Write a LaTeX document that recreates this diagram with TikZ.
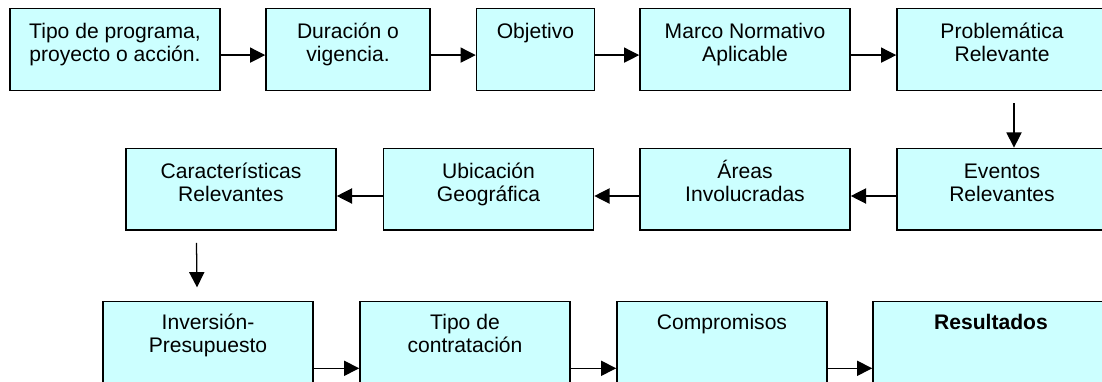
\documentclass[tikz,border=0pt]{standalone}
\usepackage{fontspec}
\setmainfont{Liberation Sans}
\usepackage{xcolor}
\usetikzlibrary{positioning,arrows.meta}
\definecolor{celeste}{RGB}{204,255,255}
\newcommand{\rtop}{\rule{0pt}{1em}}

\begin{document}
\begin{tikzpicture}[x=0.025cm,y=-0.025cm,
    caja/.style={draw=black, fill=celeste, line width=1.1pt, inner sep=0pt,
      minimum width=5.25cm, minimum height=2.04cm},
    rotulo/.style={align=center, inner sep=0pt,
      font=\fontsize{15}{16.4}\selectfont},
    flecha/.style={line width=0.9pt, -{Triangle[length=0.38cm,width=0.38cm]}}]
        \useasboundingbox (0,0) rectangle (1102,381);
        \clip (0,0) rectangle (1102,381);
        % fila 1
        \node[caja] (tipo) at (115,49.5) {};
        \node[caja, minimum width=4.1cm] (dura) at (348,49.5) {};
        \node[caja, minimum width=2.95cm] (obj) at (535.5,49.5) {};
        \node[caja] (marco) at (745,49.5) {};
        \node[caja] (prob) at (1002,49.5) {};
        \node[rotulo, below=0.24cm of tipo.north] (tipo-t) {\rtop Tipo de programa,\\proyecto o acción.};
        \node[rotulo, below=0.24cm of dura.north] (dura-t) {\rtop Duración o\\vigencia.};
        \node[rotulo, below=0.24cm of obj.north] (obj-t) {\rtop Objetivo};
        \node[rotulo, below=0.24cm of marco.north] (marco-t) {\rtop Marco Normativo\\Aplicable};
        \node[rotulo, below=0.24cm of prob.north] (prob-t) {\rtop Problemática\\Relevante};
        % fila 2
        \node[caja] (caract) at (231,189.2) {};
        \node[caja] (ubic) at (488.5,189.2) {};
        \node[caja] (areas) at (745,189.2) {};
        \node[caja] (eventos) at (1002,189.2) {};
        \node[rotulo, below=0.24cm of caract.north] (caract-t) {\rtop Características\\Relevantes};
        \node[rotulo, below=0.24cm of ubic.north] (ubic-t) {\rtop Ubicación\\Geográfica};
        \node[rotulo, below=0.24cm of areas.north] (areas-t) {\rtop Áreas\\Involucradas};
        \node[rotulo, below=0.24cm of eventos.north] (eventos-t) {\rtop Eventos\\Relevantes};
        % fila 3
        \node[caja, minimum height=3.33cm] (inv) at (208,368.3) {};
        \node[caja, minimum height=3.33cm] (contr) at (465,368.3) {};
        \node[caja, minimum height=3.33cm] (comp) at (722,368.3) {};
        \node[caja, minimum height=3.33cm, minimum width=5.9cm] (res) at (991,368.3) {};
        \node[rotulo, below=0.19cm of inv.north] (inv-t) {\rtop Inversión-\\Presupuesto};
        \node[rotulo, below=0.19cm of contr.north] (contr-t) {\rtop Tipo de\\contratación};
        \node[rotulo, below=0.19cm of comp.north] (comp-t) {\rtop Compromisos};
        \node[rotulo, below=0.19cm of res.north] (res-t) {\rtop\textbf{Resultados}};
        % flechas
        \draw[flecha] ([yshift=-0.14cm]tipo.east) -- ([yshift=-0.14cm]dura.west);
        \draw[flecha] ([yshift=-0.14cm]dura.east) -- ([yshift=-0.14cm]obj.west);
        \draw[flecha] ([yshift=-0.14cm]obj.east) -- ([yshift=-0.14cm]marco.west);
        \draw[flecha] ([yshift=-0.14cm]marco.east) -- ([yshift=-0.14cm]prob.west);
        \draw[flecha] ([xshift=0.3cm,yshift=-0.3cm]prob.south) -- ([xshift=0.3cm]eventos.north);
        \draw[flecha] ([yshift=-0.17cm]eventos.west) -- ([yshift=-0.17cm]areas.east);
        \draw[flecha] ([yshift=-0.17cm]areas.west) -- ([yshift=-0.17cm]ubic.east);
        \draw[flecha] ([yshift=-0.17cm]ubic.west) -- ([yshift=-0.17cm]caract.east);
        \draw[flecha] ([xshift=-0.8625cm,yshift=-0.3cm]caract.south) -- ([xshift=-0.275cm,yshift=0.34cm]inv.north);
        \draw[flecha] (inv.east) -- (contr.west);
        \draw[flecha] (contr.east) -- (comp.west);
        \draw[flecha] (comp.east) -- (res.west);
      \end{tikzpicture}
\end{document}
